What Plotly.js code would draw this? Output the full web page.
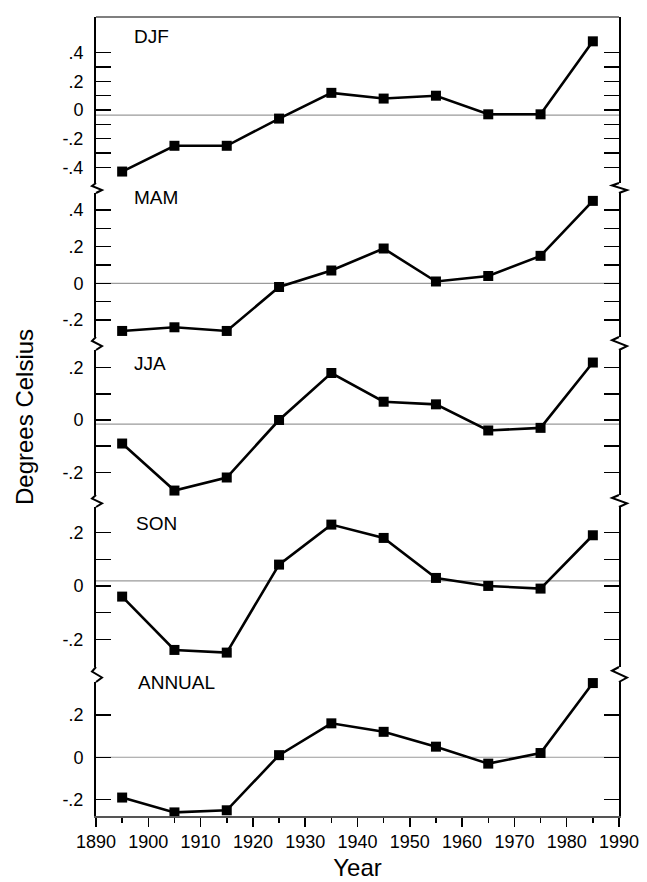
<!DOCTYPE html>
<html>
<head>
<meta charset="utf-8">
<script src="https://cdn.plot.ly/plotly-3.0.1.min.js"></script>
<style>html,body{margin:0;padding:0;background:#fff;}#chart{width:647px;height:882px;}</style>
</head>
<body>
<div id="chart"></div>
<script>
// ---- data ----
const years = [1895, 1905, 1915, 1925, 1935, 1945, 1955, 1965, 1975, 1985];
const panelNames = ["DJF", "MAM", "JJA", "SON", "ANNUAL"];
const djf    = [-0.43, -0.25, -0.25, -0.06, 0.12, 0.08, 0.10, -0.03, -0.03, 0.48];
const mam    = [-0.26, -0.24, -0.26, -0.02, 0.07, 0.19, 0.01, 0.04, 0.15, 0.45];
const jja    = [-0.09, -0.27, -0.22, 0.00, 0.18, 0.07, 0.06, -0.04, -0.03, 0.22];
const son    = [-0.04, -0.24, -0.25, 0.08, 0.23, 0.18, 0.03, 0.00, -0.01, 0.19];
const annual = [-0.19, -0.26, -0.25, 0.01, 0.16, 0.12, 0.05, -0.03, 0.02, 0.35];
const refLines = [-0.035, 0, -0.016, 0.019, 0];
const xTickVals = [1890, 1900, 1910, 1920, 1930, 1940, 1950, 1960, 1970, 1980, 1990];
const xTickText = ["1890", "1900", "1910", "1920", "1930", "1940", "1950", "1960", "1970", "1980", "1990"];
const djfTicks = [0.4, 0.3, 0.2, 0.1, 0, -0.1, -0.2, -0.3, -0.4];
const djfTickText = [".4", "", ".2", "", "0", "", "-.2", "", "-.4"];
const mamTicks = [0.4, 0.3, 0.2, 0.1, 0, -0.1, -0.2];
const mamTickText = [".4", "", ".2", "", "0", "", "-.2"];
const jjaTicks = [0.2, 0.1, 0, -0.1, -0.2];
const jjaTickText = [".2", "", "0", "", "-.2"];
const sonTicks = [0.2, 0.1, 0, -0.1, -0.2];
const sonTickText = [".2", "", "0", "", "-.2"];
const annTicks = [0.2, 0, -0.2];
const annTickText = [".2", "0", "-.2"];

const series = [djf, mam, jja, son, annual];
const tickVals = [djfTicks, mamTicks, jjaTicks, sonTicks, annTicks];
const tickTexts = [djfTickText, mamTickText, jjaTickText, sonTickText, annTickText];

// ---- layout geometry (pixels) ----
const W = 647, H = 882;
const L = 96, R = 619, T = 17, B = 816;
const panelPx = [[17, 183], [193, 337], [350, 495], [507, 667], [682, 816]];
const yRanges = [[-0.51, 0.65], [-0.293, 0.493], [-0.287, 0.268], [-0.304, 0.296], [-0.277, 0.355]];
const labelPx = [[132, 37], [132, 197], [132, 364], [134, 523], [136, 682]];

const px2x = p => (p - L) / (R - L);
const px2y = p => (B - p) / (B - T);

const FONT = "Liberation Sans, Arial, Helvetica, sans-serif";

const traces = series.map((vals, i) => ({
  type: "scatter",
  mode: "lines+markers",
  x: years,
  y: vals,
  xaxis: "x",
  yaxis: i === 0 ? "y" : "y" + (i + 1),
  line: { color: "#000", width: 2.6 },
  marker: { symbol: "square", size: 10, color: "#000" },
  cliponaxis: false,
  showlegend: false,
  hoverinfo: "skip"
}));

const layout = {
  width: W, height: H,
  margin: { l: L, r: W - R, t: T, b: H - B },
  paper_bgcolor: "#fff",
  plot_bgcolor: "#fff",
  font: { family: FONT, color: "#000", size: 17 },
  showlegend: false,
  xaxis: {
    anchor: "y5",
    range: [1890, 1990],
    tickvals: xTickVals,
    ticktext: xTickText,
    ticks: "outside",
    ticklen: 9,
    tickwidth: 1.5,
    tickcolor: "#000",
    showline: true,
    linecolor: "#555",
    linewidth: 1.5,
    showgrid: false,
    zeroline: false,
    tickfont: { size: 18, family: FONT },
    minor: { dtick: 5, tick0: 1890, ticks: "outside", ticklen: 5, tickwidth: 1.5, tickcolor: "#000", showgrid: false },
    title: { text: "Year", font: { size: 24, family: FONT }, standoff: 8 }
  },
  shapes: [],
  annotations: []
};

for (let i = 0; i < 5; i++) {
  const key = i === 0 ? "yaxis" : "yaxis" + (i + 1);
  layout[key] = {
    domain: [px2y(panelPx[i][1]), px2y(panelPx[i][0])],
    range: yRanges[i],
    tickvals: tickVals[i],
    ticktext: tickTexts[i],
    ticks: "inside",
    ticklen: 15,
    tickwidth: 1.3,
    tickcolor: "#000",
    showline: true,
    linecolor: "#000",
    linewidth: 2,
    mirror: "ticks",
    showgrid: false,
    zeroline: false,
    ticklabelstandoff: 7,
    tickfont: { size: 18, family: FONT },
    anchor: "x"
  };
  layout.shapes.push({
    type: "line", xref: "paper", x0: 0, x1: 1,
    yref: i === 0 ? "y" : "y" + (i + 1), y0: refLines[i], y1: refLines[i],
    line: { color: "#9a9a9a", width: 1.2 }, layer: "below"
  });
  layout.annotations.push({
    xref: "paper", yref: "paper",
    x: px2x(labelPx[i][0]), y: px2y(labelPx[i][1]),
    xanchor: "left", yanchor: "middle",
    text: panelNames[i], showarrow: false,
    font: { size: 19, family: FONT, color: "#000" }
  });
}

// top frame line
layout.shapes.push({
  type: "line", xref: "paper", yref: "paper", x0: 0, x1: 1, y0: 1, y1: 1,
  line: { color: "#555", width: 1.3 }
});

// axis break zigzags
for (let i = 0; i < 4; i++) {
  const a = panelPx[i][1], b = panelPx[i + 1][0], g = b - a;
  const left = [[L, a], [L - 4, a + 0.3 * g], [L + 6, a + 0.7 * g], [L, b]];
  const right = [[R, a], [R - 7, a + 0.25 * g], [R + 8, a + 0.7 * g], [R, b]];
  [left, right].forEach(pts => {
    const path = pts.map((p, k) => (k === 0 ? "M" : "L") + px2x(p[0]).toFixed(5) + "," + px2y(p[1]).toFixed(5)).join(" ");
    layout.shapes.push({ type: "path", xref: "paper", yref: "paper", path: path, line: { color: "#000", width: 2 } });
  });
}

// y-axis title
layout.annotations.push({
  xref: "paper", yref: "paper",
  x: px2x(24), y: px2y(417),
  xanchor: "center", yanchor: "middle",
  text: "Degrees Celsius", textangle: -90, showarrow: false,
  font: { size: 24, family: FONT, color: "#000" }
});

Plotly.newPlot("chart", traces, layout, { staticPlot: true, displayModeBar: false });
</script>
</body>
</html>
